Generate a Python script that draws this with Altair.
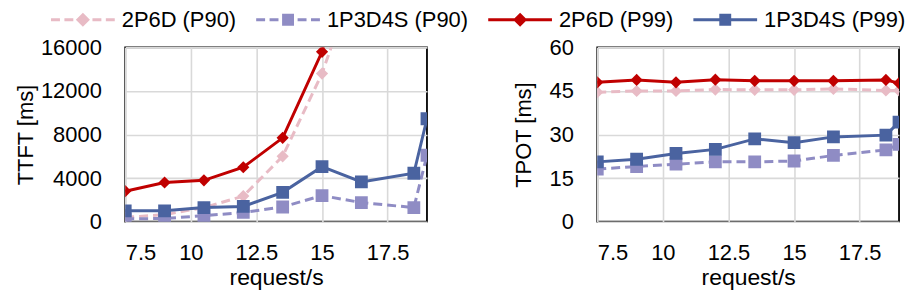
import altair as alt
import pandas as pd

X = [7.5, 9, 10.5, 12, 13.5, 15, 16.5, 18.5, 19]
SERIES = ["2P6D (P90)", "1P3D4S (P90)", "2P6D (P99)", "1P3D4S (P99)"]

# TTFT [ms] (2P6D series leave the chart above 16000 after 15 request/s)
TTFT_2P6D_P90 = [400, 650, 1300, 2350, 6000, 13600, 24000]
TTFT_1P3D4S_P90 = [250, 300, 550, 850, 1350, 2400, 1750, 1300, 6100]
TTFT_2P6D_P99 = [2800, 3600, 3800, 5000, 7700, 15600, 30000]
TTFT_1P3D4S_P99 = [1000, 1000, 1300, 1400, 2700, 5050, 3650, 4450, 9450]

# TPOT [ms]
TPOT_2P6D_P90 = [44.6, 45.0, 45.0, 45.5, 45.4, 45.4, 45.7, 45.2, 45.2]
TPOT_1P3D4S_P90 = [18.1, 19.0, 19.8, 20.6, 20.6, 20.9, 22.8, 24.7, 26.6]
TPOT_2P6D_P99 = [48.0, 48.8, 48.0, 48.9, 48.5, 48.5, 48.5, 48.8, 47.7]
TPOT_1P3D4S_P99 = [20.6, 21.5, 23.5, 24.9, 28.5, 27.2, 29.2, 29.8, 34.3]

X_TICKS = [7.5, 10, 12.5, 15, 17.5]
TTFT_TICKS = [0, 4000, 8000, 12000, 16000]
TPOT_TICKS = [0, 15, 30, 45, 60]

COLORS = ["#E8BBC5", "#8F8CC4", "#C00000", "#4A63A0"]
SHAPES = ["diamond", "square", "diamond", "square"]
SIZES = [150, 165, 150, 165]
DASHES = [[9, 5], [9, 5], None, None]

FONT = "Liberation Sans"

# legend symbols: line segment (dashed ones drawn as pieces) with marker
_DASHED = "M-1,0H-0.72M-0.58,0H-0.3M0.3,0H0.58M0.72,0H1"
_SOLID = "M-1,0H1"
_DIAMOND = "M0,-0.155L0.155,0L0,0.155L-0.155,0Z"
_SQUARE = "M-0.14,-0.14H0.14V0.14H-0.14Z"
LEG_PATHS = [_DASHED + _DIAMOND, _DASHED + _SQUARE, _SOLID + _DIAMOND, _SOLID + _SQUARE]

W, H = 303, 175


def panel(series_vals, ticks, ytitle, title_pad, with_legend):
    xenc = alt.X(
        "x:Q",
        scale=alt.Scale(domain=[7.5, 19], nice=False, zero=False),
        axis=alt.Axis(values=X_TICKS, format=".1~f", title="request/s",
                      labelPadding=21, titlePadding=3, titleFontSize=23,
                      ticks=False, tickSize=0, domain=False),
    )
    yenc = alt.Y(
        "y:Q",
        scale=alt.Scale(domain=[ticks[0], ticks[-1]], nice=False),
        axis=alt.Axis(values=ticks, format="d", title=ytitle,
                      labelPadding=24, titlePadding=title_pad, ticks=False,
                      tickSize=0, domain=False),
    )
    layers = []
    for i, vals in enumerate(series_vals):
        df = pd.DataFrame({"x": X[: len(vals)], "y": vals, "series": SERIES[i]})
        lkw = dict(color=COLORS[i], strokeWidth=3, clip=True)
        if DASHES[i] is not None:
            lkw["strokeDash"] = DASHES[i]
        layers.append(alt.Chart(df).mark_line(**lkw).encode(x=xenc, y=yenc))
        layers.append(
            alt.Chart(df)
            .mark_point(shape=SHAPES[i], size=SIZES[i], filled=True, opacity=1,
                        color=COLORS[i], clip=True)
            .encode(x=xenc, y=yenc)
        )
    if with_legend:
        leg = alt.Legend(
            orient="none", legendX=-76, legendY=-38.8, direction="horizontal",
            columns=4, title=None, labelFont=FONT, labelFontSize=22,
            labelColor="black", symbolSize=4096, symbolStrokeWidth=3,
            clipHeight=22, symbolOffset=0, labelOffset=5.5, columnPadding=18,
            padding=0,
        )
        ldf = pd.DataFrame({"series": SERIES})
        layers.append(
            alt.Chart(ldf)
            .mark_point(filled=True, opacity=1, strokeWidth=3, clip=True)
            .encode(
                x=alt.value(-500), y=alt.value(-500),
                fill=alt.Fill("series:N", scale=alt.Scale(domain=SERIES, range=COLORS), legend=leg),
                stroke=alt.Stroke("series:N", scale=alt.Scale(domain=SERIES, range=COLORS), legend=leg),
                shape=alt.Shape("series:N", scale=alt.Scale(domain=SERIES, range=LEG_PATHS), legend=leg),
            )
        )
    return alt.layer(*layers).properties(width=W, height=H)


left = panel([TTFT_2P6D_P90, TTFT_1P3D4S_P90, TTFT_2P6D_P99, TTFT_1P3D4S_P99],
             TTFT_TICKS, "TTFT [ms]", 3.3, True)
right = panel([TPOT_2P6D_P90, TPOT_1P3D4S_P90, TPOT_2P6D_P99, TPOT_1P3D4S_P99],
              TPOT_TICKS, "TPOT [ms]", 13.5, False)

chart = (
    alt.hconcat(left, right, spacing=84)
    .properties(padding={"left": 4.7, "top": 0, "right": 0, "bottom": 0})
    .configure_view(stroke="black", strokeWidth=1.8)
    .configure_axis(
        labelFont=FONT, labelFontSize=22, labelColor="black",
        titleFont=FONT, titleFontSize=22, titleColor="black", titleFontWeight="normal",
        gridColor="#D9D9D9", gridWidth=1.6,
    )
)

chart.save("out.html", embed_options={"renderer": "svg", "actions": False})
